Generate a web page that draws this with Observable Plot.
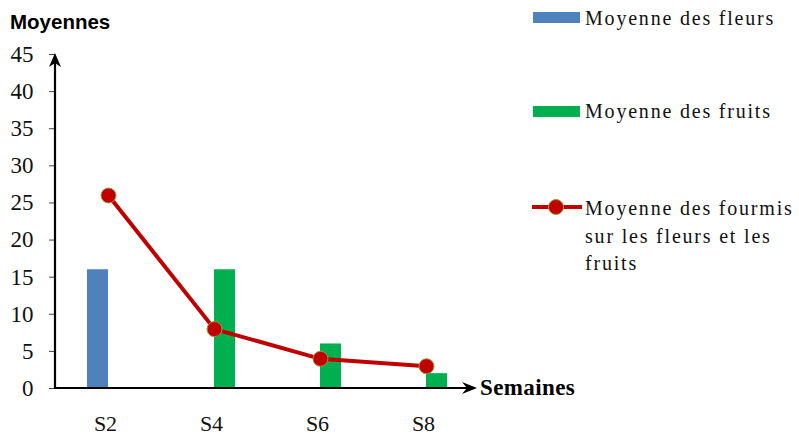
<!DOCTYPE html>
<html><head><meta charset="utf-8">
<script src="https://cdn.jsdelivr.net/npm/d3@7"></script>
<script src="https://cdn.jsdelivr.net/npm/@observablehq/plot@0.6"></script>
<style>
body{margin:0;background:#fff}
#chart{position:relative;width:799px;height:436px;overflow:hidden}
</style>
</head><body><div id="chart"></div>
<script>
// ---- data ----
const semaines = ["S2", "S4", "S6", "S8"];
const moyFleurs = [16, 0, 0, 0];
const moyFruits = [0, 16, 6, 2];
const moyFourmis = [26, 8, 4, 3];
const yTicks = [0, 5, 10, 15, 20, 25, 30, 35, 40, 45];
const yTitle = "Moyennes";
const xTitle = "Semaines";
const legendFleurs = "Moyenne des fleurs";
const legendFruits = "Moyenne des fruits";
const legendFourmis = ["Moyenne des fourmis", "sur les fleurs et les", "fruits"];

const fleursData = semaines.map((s, i) => ({s, v: moyFleurs[i]})).filter(d => d.v > 0);
const fruitsData = semaines.map((s, i) => ({s, v: moyFruits[i]})).filter(d => d.v > 0);
const fourmisData = semaines.map((s, i) => ({s, v: moyFourmis[i]}));

const blue = "#4F81BD", green = "#00B050", red = "#C00000", dotStroke = "#9B9B3A";
const serif = "Liberation Serif, Times New Roman, serif";

const chart = Plot.plot({
  width: 799, height: 436,
  marginLeft: 55, marginRight: 320, marginTop: 54, marginBottom: 48,
  x: {domain: semaines, padding: 0, axis: null},
  y: {domain: [0, 45], axis: null},
  style: {background: "white", fontFamily: serif, color: "#000", overflow: "visible"},
  marks: [
    Plot.barY(fleursData, {x: "s", y: "v", fill: blue, insetLeft: 32, insetRight: 53}),
    Plot.barY(fruitsData, {x: "s", y: "v", fill: green, insetLeft: 53, insetRight: 32}),
    Plot.axisY({ticks: yTicks, tickSize: 6, tickPadding: 16, fontSize: 23, fontFamily: serif,
                tickFormat: d => String(d), stroke: "#444", fill: "#111", label: null}),
    Plot.axisX({tickSize: 0, tickPadding: 27, fontSize: 22, fontFamily: serif, dx: -3,
                fill: "#111", label: null}),
    Plot.lineY(fourmisData, {x: "s", y: "v", stroke: red, strokeWidth: 4}),
    Plot.dot(fourmisData, {x: "s", y: "v", r: 7.5, fill: red, stroke: dotStroke, strokeWidth: 1})
  ]
});

document.getElementById("chart").appendChild(chart);

// ---- axis lines with arrows, using the chart's scales ----
const sx = chart.scale("x"), sy = chart.scale("y");
const x0 = sx.range[0], x1 = sx.range[1] - 2;
const y0 = sy.apply(0), yTop = sy.apply(45) - 1;
const svg = d3.select(chart);
const g = svg.append("g");
// y axis
g.append("line").attr("x1", x0).attr("x2", x0).attr("y1", y0 + 1).attr("y2", yTop + 8)
  .attr("stroke", "#000").attr("stroke-width", 2.2);
g.append("path")
  .attr("d", `M${x0},${yTop} L${x0 - 6},${yTop + 14} L${x0},${yTop + 10} L${x0 + 6},${yTop + 14} Z`)
  .attr("fill", "#000");
// x axis
g.append("line").attr("x1", x0 - 1).attr("x2", x1 - 8).attr("y1", y0).attr("y2", y0)
  .attr("stroke", "#000").attr("stroke-width", 2.2);
g.append("path")
  .attr("d", `M${x1},${y0} L${x1 - 15},${y0 - 6} L${x1 - 10},${y0} L${x1 - 15},${y0 + 6} Z`)
  .attr("fill", "#000");

// titles
svg.append("text").attr("x", 10).attr("y", 29).attr("text-anchor", "start")
  .attr("font-family", "Liberation Sans, Arial, sans-serif").attr("font-weight", "bold")
  .attr("font-size", 20.5).attr("fill", "#000").text(yTitle);
svg.append("text").attr("x", x1 + 3).attr("y", y0 + 7).attr("text-anchor", "start")
  .attr("font-family", serif).attr("font-weight", "bold")
  .attr("font-size", 23).attr("letter-spacing", 0.4).attr("fill", "#000").text(xTitle);

// legend
const lg = svg.append("g").attr("font-family", serif).attr("font-size", 20)
  .attr("letter-spacing", 1.8).attr("fill", "#111").attr("text-anchor", "start");
lg.append("rect").attr("x", 533).attr("y", 12).attr("width", 47).attr("height", 11).attr("fill", blue);
lg.append("text").attr("x", 585).attr("y", 25).text(legendFleurs);
lg.append("rect").attr("x", 533).attr("y", 106).attr("width", 47).attr("height", 11).attr("fill", green);
lg.append("text").attr("x", 585).attr("y", 118).text(legendFruits);
lg.append("line").attr("x1", 532).attr("x2", 582).attr("y1", 207).attr("y2", 207)
  .attr("stroke", red).attr("stroke-width", 4);
lg.append("circle").attr("cx", 556).attr("cy", 207).attr("r", 7.5)
  .attr("fill", red).attr("stroke", dotStroke).attr("stroke-width", 1);
legendFourmis.forEach((t, i) => {
  lg.append("text").attr("x", 585).attr("y", 215 + i * 27.5).text(t);
});
</script>
</body></html>
